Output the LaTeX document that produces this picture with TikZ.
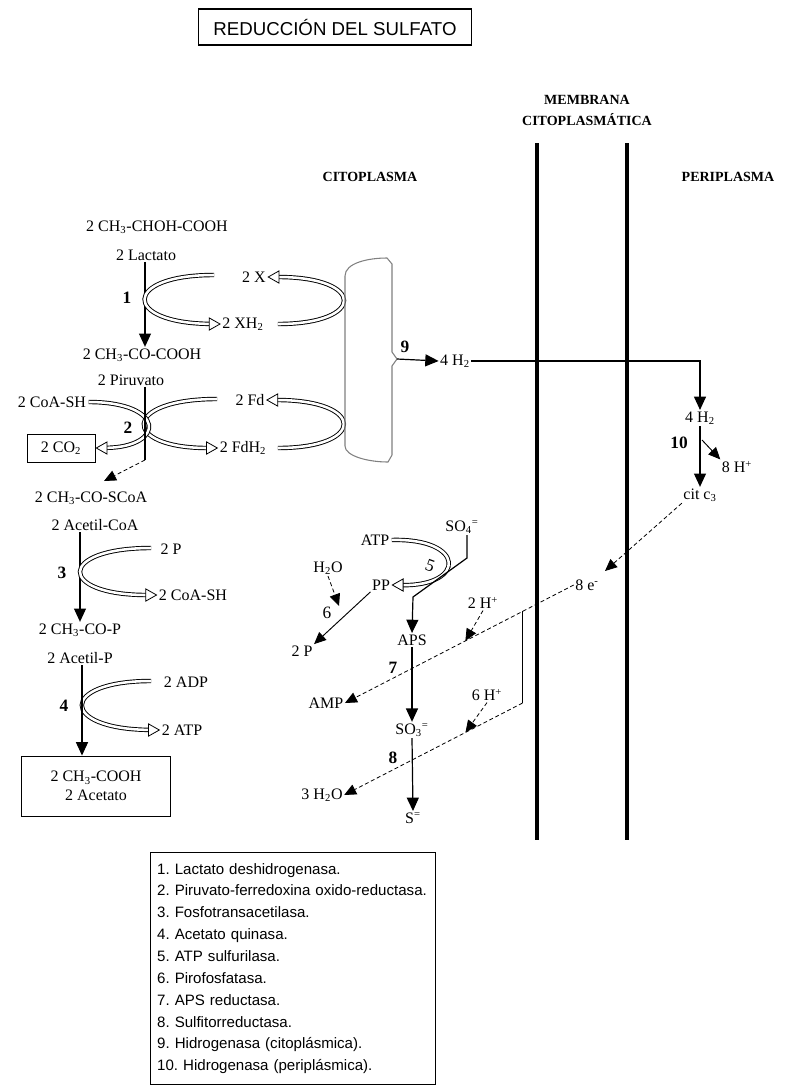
\documentclass[tikz,border=0pt]{standalone}
\usepackage{fontspec}
\setmainfont{Liberation Serif}
\newfontfamily\arialf{Liberation Sans}
\usetikzlibrary{arrows.meta,calc}
\begin{document}
\begin{tikzpicture}[x=0.75pt,y=-0.75pt,
  lbl/.style={font=\fontsize{12}{14}\selectfont, inner sep=1pt},
  num/.style={font=\fontsize{13}{15}\selectfont\bfseries, inner sep=1pt},
  head/.style={font=\fontsize{10.5}{15.75}\selectfont\bfseries, inner sep=1pt, align=center},
  mainarr/.style={line width=0.9pt, -{Triangle[length=10pt,width=9pt]}},
  thinarr/.style={line width=0.6pt, densely dashed, -{Triangle[length=9pt,width=8pt]}},
  smallarr/.style={line width=0.7pt, -{Triangle[length=9pt,width=8pt]}},
  band/.style={preaction={draw, black, line width=3.3pt, shorten >=8pt},
               draw=white, line width=1.9pt, shorten >=8pt, shorten <=0.7pt},
  opentip/.style={white, line width=0.6pt, -{Triangle[color=black, fill=white, length=9pt, width=10pt]}},
  membr/.style={line width=3.7pt},
  boxed/.style={draw, line width=0.7pt},
]
\useasboundingbox (0,0) rectangle (794,1090);

% title and headers
\node[draw, line width=0.8pt, font=\arialf\fontsize{14}{16}\selectfont, minimum width=205pt, minimum height=27pt] (title) at (335,27) {REDUCCIÓN DEL SULFATO};
\node[head] (memb) at (587,110) {MEMBRANA\\CITOPLASMÁTICA};
\node[head] (cito) at (370,177) {CITOPLASMA};
\node[head] (peri) at (728,177) {PERIPLASMA};

% membranes
\coordinate (m1t) at (537,143); \coordinate (m1b) at (537,840);
\coordinate (m2t) at (627,143); \coordinate (m2b) at (627,840);
\draw[membr] (m1t) -- (m1b);
\draw[membr] (m2t) -- (m2b);

% axes
\coordinate (ax1) at (145,0);
\coordinate (ax3) at (80,0);
\coordinate (ax4) at (82,0);

% lactate -> pyruvate
\node[lbl] (lacf) at (157,227) {2 CH\textsubscript{3}-CHOH-COOH};
\node[lbl] (lac) at (146,255) {2 Lactato};
\node[lbl] (pyrf) at (142,355) {2 CH\textsubscript{3}-CO-COOH};
\node[lbl] (pyr) at (131,380) {2 Piruvato};
\draw[mainarr] (lac.south -| ax1) -- (pyrf.north -| ax1);
\node[num] (n1) at (127,298) {1};
\node[lbl] (X) at (254,277) {2 X};
\node[lbl] (XH) at (243,324) {2 XH\textsubscript{2}};
\coordinate (l1s) at (215,275);
\coordinate (r1s) at (277,324);
\path[band] (l1s) .. controls (122,275) and (122,323) .. (XH.west);
\draw[opentip] ($(XH.west)+(-14,0)$) -- (XH.west);
\path[band] (r1s) .. controls (366,324) and (366,277) .. (X.east);
\draw[opentip] ($(X.east)+(14,0)$) -- (X.east);

% pyruvate -> acetyl-CoA
\node[lbl] (Fd) at (250,400) {2 Fd};
\node[lbl] (FdH) at (243,448) {2 FdH\textsubscript{2}};
\coordinate (l2s) at (218,399);
\coordinate (r2s) at (277,448);
\path[band] (l2s) .. controls (121,399) and (121,448) .. (FdH.west);
\draw[opentip] ($(FdH.west)+(-14,0)$) -- (FdH.west);
\path[band] (r2s) .. controls (366,448) and (366,400) .. (Fd.east);
\draw[opentip] ($(Fd.east)+(14,0)$) -- (Fd.east);
\node[lbl] (coa1) at (52,402) {2 CoA-SH};
\node[boxed, lbl, minimum width=51pt, minimum height=21pt] (co2) at (61,448) {2 CO\textsubscript{2}};
\path[band] (coa1.east) .. controls (166,402) and (166,447) .. (co2.east);
\draw[opentip] ($(co2.east)+(14,0)$) -- (co2.east);
\coordinate (k2) at (145,460);
\coordinate (k2e) at (104,481);
\draw[line width=0.9pt] (pyr.south -| ax1) -- (k2);
\draw[thinarr] (k2) -- (k2e);
\node[num] (n2) at (128,428) {2};

% acetyl-CoA -> acetyl-P
\node[lbl] (acoaf) at (91,498) {2 CH\textsubscript{3}-CO-SCoA};
\node[lbl] (acoa) at (95,525) {2 Acetil-CoA};
\node[lbl] (acpf) at (80,630) {2 CH\textsubscript{3}-CO-P};
\node[lbl] (acp) at (80,658) {2 Acetil-P};
\draw[mainarr] (acoa.south -| ax3) -- (acpf.north -| ax3);
\node[num] (n3) at (62,573) {3};
\node[lbl] (P2) at (171,549) {2 P};
\node[lbl] (coa2) at (193,595) {2 CoA-SH};
\coordinate (l3s) at (152,548);
\path[band] (l3s) .. controls (57,548) and (57,595) .. (coa2.west);
\draw[opentip] ($(coa2.west)+(-14,0)$) -- (coa2.west);

% acetyl-P -> acetate
\node[lbl] (adp) at (186,682) {2 ADP};
\node[lbl] (atp2) at (182,730) {2 ATP};
\coordinate (l4s) at (152,681);
\path[band] (l4s) .. controls (59,681) and (59,729) .. (atp2.west);
\draw[opentip] ($(atp2.west)+(-14,0)$) -- (atp2.west);
\node[num] (n4) at (64,706) {4};
\node[boxed, lbl, align=center, minimum width=112pt, minimum height=45pt] (acet) at (96,786) {2 CH\textsubscript{3}-COOH\\2 Acetato};
\draw[mainarr] (acp.south -| ax4) -- (acet.north -| ax4);

% hydrogenase (cytoplasmic)
\coordinate (bump) at (397,359);
\draw[gray, line width=0.8pt] (345,276) .. controls (345,263) and (368,258) .. (387,258)
  -- (392,264) -- (392,352) -- (bump) -- (392,366) -- (392,455) -- (388,462)
  .. controls (368,462) and (345,456) .. (345,446) -- cycle;
\node[num] (n9) at (405,347) {9};
\node[lbl] (h2a) at (455,361) {4 H\textsubscript{2}};
\draw[mainarr] (bump) -- (h2a.west);
\coordinate (corner) at (700,361);
\node[lbl] (h2b) at (700,418) {4 H\textsubscript{2}};
\draw[mainarr] (h2a.east) -- (corner) -- (h2b.north);

% periplasm
\node[lbl] (cit) at (700,495) {cit c\textsubscript{3}};
\draw[mainarr] (h2b.south) -- (cit.north);
\node[num] (n10) at (679,443) {10};
\node[lbl] (hp8) at (737,467) {8 H\textsuperscript{+}};
\coordinate (s10) at (702,440);
\draw[smallarr] (s10) -- (hp8.north west);
\node[lbl] (e8) at (587,585) {8 e\textsuperscript{-}};
\coordinate (e8t) at (605,571);
\draw[thinarr] (cit.south west) -- (e8t);

% sulfate activation
\node[lbl] (atp5) at (375,540) {ATP};
\node[lbl] (so4) at (462,527) {SO\textsubscript{4}\textsuperscript{=}};
\node[lbl] (h2o6) at (328,568) {H\textsubscript{2}O};
\node[lbl] (pp) at (381,585) {PP};
\node[lbl] (p2b) at (302,651) {2 P};
\node[lbl, font=\fontsize{13}{15}\selectfont] (n6) at (327,613) {6};
\node[lbl, font=\fontsize{13}{15}\selectfont, rotate=-20] (n5) at (430,566) {5};
\path[band] (atp5.east) .. controls (466,538) and (466,586) .. (pp.east);
\draw[opentip] ($(pp.east)+(14,0)$) -- (pp.east);
\draw[smallarr] (pp.south west) -- (p2b.north east);
\coordinate (h2ot) at (339,606);
\draw[thinarr] (h2o6.south) -- (h2ot);
\coordinate (s1) at (467,558);
\coordinate (s2) at (413,597);
\node[lbl] (aps) at (412,640) {APS};
\draw[mainarr] (so4.south -| s1) -- (s1) -- (s2) -- (aps.north);

% APS -> sulfite -> sulfide
\node[num] (n7) at (393,668) {7};
\node[lbl] (so3) at (412,730) {SO\textsubscript{3}\textsuperscript{=}};
\draw[mainarr] (aps.south) -- (so3.north);
\node[num] (n8) at (393,758) {8};
\node[lbl] (s2m) at (413,818) {S\textsuperscript{=}};
\draw[mainarr] (so3.south) -- (s2m.north);
\node[lbl] (amp) at (326,703) {AMP};
\node[lbl] (h2o3) at (322,795) {3 H\textsubscript{2}O};

% electron flow
\draw[thinarr] (e8.west) -- (amp.east);
\coordinate (br1) at ($(e8.west)!0.2237!(amp.east)$);
\coordinate (br2) at (br1 |- amp);
\draw[line width=0.7pt] (br1) -- (br2);
\draw[thinarr] (br2) -- (h2o3.east);
\node[lbl] (hp2) at (483,603) {2 H\textsuperscript{+}};
\node[lbl] (hp6) at (487,695) {6 H\textsuperscript{+}};
\coordinate (t2) at ($(e8.west)!0.4737!(amp.east)$);
\coordinate (t6) at ($(br2)!0.32!(h2o3.east)$);
\draw[thinarr] (hp2.south) -- (t2);
\draw[thinarr] (hp6.south) -- (t6);

% legend
\node[draw, line width=0.8pt, anchor=north west, font=\arialf\fontsize{11.3}{16.4}\selectfont, align=left, text width=204pt, inner xsep=5pt, minimum height=174pt] (leg) at (150,852) {\frenchspacing 1. Lactato deshidrogenasa.\\2. Piruvato-ferredoxina oxido-reductasa.\\3. Fosfotransacetilasa.\\4. Acetato quinasa.\\5. ATP sulfurilasa.\\6. Pirofosfatasa.\\7. APS reductasa.\\8. Sulfitorreductasa.\\9. Hidrogenasa (citoplásmica).\\10. Hidrogenasa (periplásmica).};
\end{tikzpicture}
\end{document}
